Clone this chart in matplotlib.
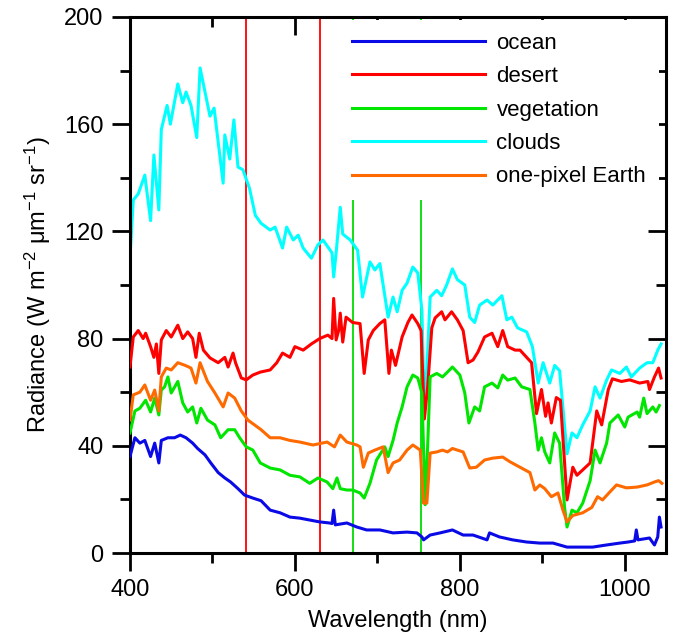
import matplotlib
matplotlib.use("Agg")
from matplotlib import pyplot as plt
from matplotlib.ticker import MultipleLocator

plt.rcParams['font.family'] = ['Liberation Sans', 'DejaVu Sans']
plt.rcParams['mathtext.default'] = 'regular'

# espectros (nm, W m-2 um-1 sr-1)
ocean_nm = [400, 406, 412, 418, 425, 430, 435, 438, 446, 454, 461, 468, 476, 482, 491, 498, 507,
            515, 522, 531, 539, 549, 559, 570, 582, 594, 606, 618, 630, 642, 645, 647, 649, 663,
            675, 687, 703, 719, 736, 748, 754, 756, 764, 776, 791, 804, 816, 833, 836, 848, 864,
            881, 897, 913, 930, 945, 961, 978, 994, 1004, 1012, 1014, 1016, 1030, 1036, 1040, 1042, 1044]
ocean = [36, 43, 41, 42, 36, 41, 33.6, 42, 43, 43, 44, 43, 41, 39, 36.6, 33.6, 30,
         28, 26.5, 24, 21.6, 20.5, 19.5, 16, 15, 13.4, 13, 12.3, 11.6, 11.2, 11, 16, 10.5, 11.2,
         9.7, 8.6, 8.6, 7.5, 7.8, 7.5, 6, 4.9, 6.7, 7.5, 8.6, 6.7, 6.7, 4.9, 7.5, 6, 4.9,
         4.1, 3.7, 3.7, 2.2, 2.2, 2.2, 3, 3.7, 4.1, 4.5, 8.6, 4.9, 5.6, 3, 6, 13.4, 9.7]

desert_nm = [400, 404, 410, 416, 419, 425, 429, 432, 435, 438, 444, 450, 458, 464, 470, 476, 480,
             484, 489, 497, 507, 515, 519, 525, 528, 535, 541, 549, 558, 570, 578, 585, 594, 600,
             610, 620, 630, 640, 645, 647, 650, 653, 655, 658, 662, 670, 679, 684, 689, 695, 703,
             709, 714, 717, 722, 730, 737, 742, 749, 753, 757, 761, 766, 770, 778, 782, 790, 797,
             804, 810, 816, 822, 830, 839, 846, 852, 858, 867, 873, 881, 887, 893, 899, 904, 907,
             911, 917, 922, 930, 937, 942, 949, 958, 966, 972, 980, 985, 996, 1006, 1018, 1028,
             1030, 1036, 1041, 1044]
desert = [69.4, 80.6, 83, 80, 82, 77, 73, 78, 67, 79.5, 83, 80.6, 85, 80, 82.5, 80, 73,
          82, 75.7, 72.8, 71, 73, 69.4, 74.6, 71, 65.3, 64.6, 66.4, 67.5, 68.3, 71, 74.6, 73, 77,
          75.7, 78, 80, 81.3, 80, 95, 79.5, 83, 89.5, 78.7, 88, 86, 85.6, 67, 79.5, 83, 85.6,
          87, 67, 75.7, 70, 80.6, 86, 88.8, 85.6, 83, 50, 62, 84, 87.7, 90, 87, 90, 87,
          83, 71, 72, 75, 80.6, 82, 77, 83, 77, 75.7, 75.7, 73, 71, 52, 61, 51, 56,
          48.5, 58, 57, 19.8, 32, 29, 31, 33.6, 53, 47.8, 61, 65, 64, 64.6, 63.4, 64,
          61, 65.7, 69, 65.3]

veg_nm = [400, 406, 412, 419, 425, 430, 435, 438, 442, 446, 450, 458, 464, 470, 476, 481, 486,
          494, 503, 510, 519, 527, 533, 541, 549, 558, 570, 582, 594, 606, 618, 628, 639, 646,
          651, 655, 663, 670, 679, 684, 691, 699, 709, 713, 719, 724, 730, 736, 743, 749, 754,
          758, 761, 764, 772, 779, 785, 791, 800, 806, 811, 818, 824, 830, 839, 846, 852, 858,
          867, 875, 885, 891, 895, 899, 903, 909, 915, 921, 927, 930, 936, 942, 949, 958, 964,
          970, 978, 982, 992, 1000, 1004, 1015, 1018, 1023, 1027, 1034, 1038, 1042]
veg = [44.8, 53, 54, 57, 52.6, 57.8, 51.5, 60.8, 62, 65.7, 59.7, 64, 56, 52.6, 54.5, 48.5, 54,
       49.6, 47.8, 43, 46, 46, 43, 39.6, 38.4, 33.6, 31.7, 31, 29, 28.4, 26, 28, 26.5, 24,
       28, 24, 23.5, 23.5, 22.4, 20.5, 26, 34.7, 39.6, 36, 42, 48.5, 54.5, 62, 66.4, 65.3, 59.7,
       18, 40, 65.7, 67, 65.7, 67.5, 69.4, 66.4, 59.7, 48.5, 54.5, 53, 62, 63.4, 61.6, 66.4, 64.5,
       65.3, 62, 61, 48.5, 38.4, 43, 37.7, 33.6, 44.8, 41, 17, 9.7, 16, 15, 18.6, 27, 38.4,
       33.6, 41, 48.5, 51.5, 47, 50.7, 52.6, 50.7, 57.8, 52, 54.5, 52.6, 55]

clouds_nm = [400, 404, 410, 418, 425, 429, 435, 438, 445, 449, 458, 464, 468, 474, 481, 485, 491,
             497, 502, 513, 515, 521, 526, 531, 537, 545, 552, 559, 570, 576, 585, 590, 598, 604,
             610, 620, 628, 634, 645, 647, 650, 655, 658, 667, 676, 682, 691, 697, 703, 713, 719,
             724, 730, 736, 743, 749, 754, 757, 761, 764, 772, 778, 784, 791, 797, 806, 812, 818,
             824, 833, 840, 851, 857, 863, 870, 881, 888, 895, 901, 909, 915, 921, 930, 936, 942,
             949, 958, 964, 970, 978, 984, 994, 1002, 1008, 1018, 1027, 1034, 1040, 1044]
clouds = [110, 131.7, 134, 141, 124, 148.5, 128, 158, 167, 160, 175, 168, 172, 167, 155, 181, 172,
          163, 166, 138, 156, 147, 161.6, 144, 143, 136, 126, 123, 120.5, 121.6, 113.8, 121.6, 116.8, 118.6,
          113.8, 110, 115, 116.8, 112, 103, 112, 129, 119, 116.8, 113, 95.5, 108.6, 105.6, 108, 88, 95.5,
          90, 98, 100.7, 106.7, 104.5, 90.7, 53, 75, 95.5, 98, 96, 100, 106, 102, 100, 88, 86,
          92.5, 94.4, 92.5, 96, 87, 88, 84, 82.5, 77, 63.4, 71, 63.4, 70, 68, 37, 44.8, 43,
          47.8, 53, 62, 57.8, 64.5, 68.3, 67, 69.4, 65.7, 69, 71, 71, 75.7, 78]

earth_nm = [400, 404, 412, 418, 425, 430, 435, 438, 444, 450, 458, 467, 474, 480, 485, 494, 503,
            513, 519, 527, 535, 543, 551, 559, 570, 582, 594, 606, 622, 639, 648, 655, 663, 675,
            679, 683, 689, 697, 707, 713, 719, 727, 736, 743, 752, 756, 760, 764, 772, 779, 785,
            791, 804, 812, 820, 830, 840, 852, 861, 873, 885, 891, 897, 903, 911, 919, 925, 930,
            937, 949, 960, 967, 973, 982, 990, 1002, 1015, 1027, 1036, 1041, 1045]
earth = [49.6, 59, 60, 62.7, 57, 60.8, 53, 65.7, 69, 68.3, 71, 70, 69, 63.4, 71, 64, 59.7,
         54.5, 59.7, 57.8, 53, 49.6, 47.8, 46, 43, 43, 42, 41.4, 40.3, 41.4, 39.6, 44, 41.4, 40.3,
         39.6, 32, 37.3, 38.4, 39.6, 30, 33.6, 34.7, 38.4, 40.3, 38.4, 18.6, 18.6, 37.3, 37.7, 38.4, 37.7,
         39, 37.7, 31.7, 32, 34.7, 35.4, 35.8, 34, 32, 30, 23.5, 25.4, 24, 21, 22.4, 16, 11.6,
         14, 15, 17, 21, 19.8, 22.8, 25.4, 24.3, 24.6, 25.4, 26.5, 27, 26]

red_lines = [541, 630]
green_lines = [671, 753]

fig = plt.figure(figsize=(6.78, 6.36), dpi=100)
ax = fig.add_axes([0.1917, 0.1305, 0.7906, 0.8428])

for x in red_lines:
    ax.axvline(x, color='#ff0000', lw=1.3, zorder=1)
for x in green_lines:
    ax.axvline(x, color='#00dd00', lw=1.3, zorder=1)

ax.plot(ocean_nm, ocean, color='#0a0ae6', lw=2.2, label='ocean', zorder=3)
ax.plot(desert_nm, desert, color='#ff0000', lw=2.2, label='desert', zorder=3)
ax.plot(veg_nm, veg, color='#00e600', lw=2.2, label='vegetation', zorder=3)
ax.plot(clouds_nm, clouds, color='#00ffff', lw=2.2, label='clouds', zorder=2)
ax.plot(earth_nm, earth, color='#ff6a00', lw=2.2, label='one-pixel Earth', zorder=3)

ax.set_xlim(400, 1050)
ax.set_ylim(0, 200)
ax.xaxis.set_major_locator(MultipleLocator(200))
ax.xaxis.set_minor_locator(MultipleLocator(100))
ax.yaxis.set_major_locator(MultipleLocator(40))
ax.yaxis.set_minor_locator(MultipleLocator(20))
ax.tick_params(which='major', direction='out', length=13, width=2, labelsize=17, pad=6)
ax.tick_params(which='minor', direction='out', length=7, width=2)
for s in ax.spines.values():
    s.set_linewidth(2.2)

top = ax.secondary_xaxis('top')
top.xaxis.set_major_locator(MultipleLocator(200))
top.xaxis.set_minor_locator(MultipleLocator(100))
top.tick_params(which='major', direction='in', length=13, width=2, labeltop=False)
top.tick_params(which='minor', direction='in', length=7, width=2)
right = ax.secondary_yaxis('right')
right.yaxis.set_major_locator(MultipleLocator(40))
right.yaxis.set_minor_locator(MultipleLocator(20))
right.tick_params(which='major', direction='in', length=13, width=2, labelright=False)
right.tick_params(which='minor', direction='in', length=7, width=2)

ax.set_xlabel('Wavelength (nm)', fontsize=17, labelpad=6)
ax.set_ylabel('Radiance (W m$^{-2}$ μm$^{-1}$ sr$^{-1}$)', fontsize=17, labelpad=8)

leg = ax.legend(loc='upper left', bbox_to_anchor=(0.391, 0.994), fontsize=16,
                handlelength=6, handletextpad=0.5, labelspacing=0.56,
                frameon=True, fancybox=False, borderaxespad=0, borderpad=0.56)
leg.get_frame().set_facecolor('white')
leg.get_frame().set_edgecolor('none')
leg.get_frame().set_alpha(1)
leg.set_zorder(5)

fig.savefig('out.png', dpi=100)
